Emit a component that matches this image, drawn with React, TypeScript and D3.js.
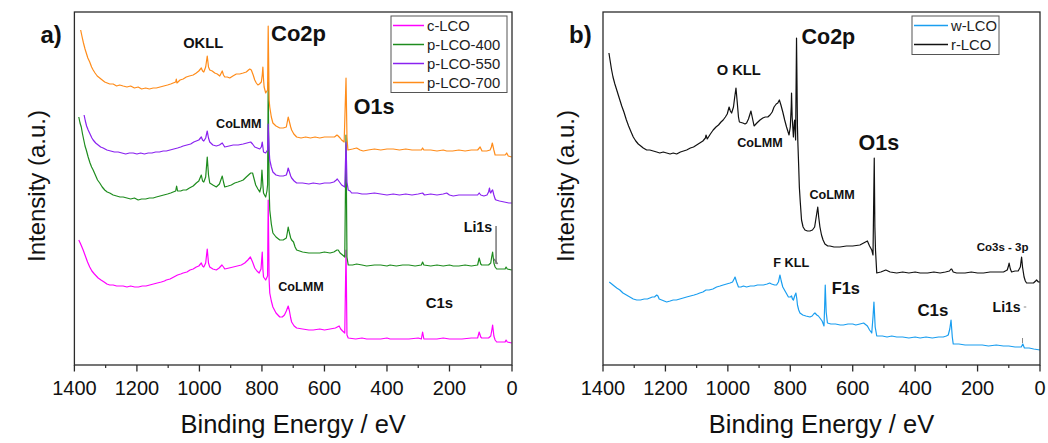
import React from "react";
import * as d3 from "d3";

type Pt = [number, number];

// Binding energy axis ticks (eV)
const energyTicks = [1400, 1200, 1000, 800, 600, 400, 200, 0];
const energyMinorTicks = [1300, 1100, 900, 700, 500, 300, 100];

// Survey spectra: [binding energy (eV), intensity (a.u., stacked with offsets)]
const cLCO: Pt[] = [
  [1386, 127], [1380, 123], [1372, 117], [1365, 111], [1358, 105], [1351, 100], [1344, 96], [1336, 93],
  [1330, 91], [1324, 89], [1315, 87], [1305, 85], [1296, 83], [1287, 82], [1276, 82], [1265, 81],
  [1254, 81], [1244, 81], [1232, 80], [1220, 81], [1207, 80], [1195, 80], [1183, 81], [1171, 81],
  [1159, 82], [1147, 83], [1135, 84], [1122, 85], [1112, 86], [1106, 87], [1094, 88], [1082, 90],
  [1070, 92], [1060, 93], [1052, 94], [1040, 95], [1030, 97], [1020, 98], [1010, 100], [1002, 101],
  [994, 104], [990, 101], [986, 100], [980, 104], [975, 118], [971, 104], [967, 100], [957, 98],
  [946, 97], [937, 99], [928, 102], [923, 100], [919, 98], [905, 99], [892, 100], [879, 101],
  [866, 102], [855, 104], [845, 107], [837, 110], [830, 105], [823, 99], [816, 96], [809, 94],
  [803, 98], [799, 115], [797, 98], [795, 90], [788, 87], [782, 91], [780, 167], [777, 87],
  [775, 74], [770, 66], [765, 60], [755, 54], [743, 50], [735, 50], [728, 52], [722, 56],
  [716, 61], [712, 56], [708, 49], [705, 45], [697, 41], [689, 39], [670, 38], [650, 37],
  [636, 37], [615, 38], [600, 37], [582, 38], [565, 39], [553, 41], [548, 38], [542, 36],
  [535, 34], [531, 117], [528, 32], [524, 29], [500, 28], [480, 29], [465, 28], [440, 28],
  [420, 28], [400, 29], [390, 28], [360, 28], [330, 28], [300, 29], [290, 28], [286, 35],
  [282, 28], [260, 28], [240, 28], [220, 29], [200, 28], [188, 28], [160, 28], [130, 29],
  [110, 29], [105, 35], [100, 30], [97, 29], [85, 29], [75, 29], [68, 31], [65, 36],
  [62, 42], [58, 31], [54, 27], [49, 25], [35, 25], [22, 25], [19, 27], [15, 25], [1, 24],
];

const pLCO400: Pt[] = [
  [1386, 250], [1382, 244], [1378, 240], [1374, 233], [1370, 227], [1366, 221], [1362, 217], [1356, 210],
  [1350, 204], [1345, 200], [1340, 197], [1333, 192], [1326, 187], [1319, 184], [1311, 180], [1303, 177],
  [1295, 175], [1287, 174], [1276, 172], [1265, 171], [1254, 170], [1244, 170], [1232, 169], [1220, 168],
  [1208, 169], [1196, 167], [1185, 168], [1172, 168], [1160, 169], [1148, 169], [1138, 170], [1126, 171],
  [1114, 172], [1102, 173], [1092, 174], [1084, 175], [1076, 176], [1073, 181], [1070, 176], [1060, 176],
  [1052, 177], [1042, 177], [1032, 179], [1020, 181], [1010, 184], [1002, 186], [994, 192], [990, 186],
  [986, 185], [980, 190], [975, 210], [971, 192], [967, 184], [957, 182], [946, 180], [936, 183],
  [927, 191], [923, 185], [919, 180], [908, 181], [898, 182], [887, 184], [877, 185], [868, 186],
  [860, 187], [850, 190], [843, 192], [836, 194], [830, 194], [825, 188], [820, 182], [813, 178],
  [807, 175], [803, 180], [800, 197], [797, 182], [795, 174], [790, 171], [788, 170], [784, 176],
  [782, 182], [780, 285], [777, 177], [775, 157], [770, 143], [765, 134], [755, 130], [743, 127],
  [732, 127], [722, 129], [719, 134], [716, 140], [712, 134], [708, 129], [705, 127], [699, 125],
  [694, 120], [689, 117], [670, 115], [650, 114], [636, 114], [615, 114], [600, 115], [582, 114],
  [570, 115], [560, 117], [556, 117], [550, 114], [542, 112], [535, 110], [531, 232], [528, 110],
  [524, 102], [510, 102], [497, 103], [480, 102], [465, 101], [440, 102], [420, 102], [400, 101],
  [390, 102], [370, 101], [350, 102], [330, 102], [310, 101], [290, 102], [286, 105], [282, 102],
  [260, 101], [240, 102], [220, 101], [200, 102], [188, 101], [170, 101], [150, 102], [130, 101],
  [110, 102], [105, 109], [100, 103], [97, 102], [85, 102], [75, 102], [68, 104], [65, 110],
  [62, 115], [58, 104], [54, 100], [49, 98], [35, 98], [22, 98], [19, 100], [15, 98], [1, 97],
];

const pLCO550: Pt[] = [
  [1369, 252], [1365, 246], [1361, 241], [1356, 237], [1350, 233], [1344, 229], [1340, 227], [1332, 224],
  [1324, 222], [1316, 220], [1308, 219], [1296, 217], [1284, 216], [1272, 215], [1260, 215], [1248, 214],
  [1236, 213], [1224, 214], [1212, 214], [1200, 213], [1188, 214], [1176, 213], [1164, 214], [1152, 214],
  [1140, 215], [1128, 215], [1116, 216], [1106, 216], [1094, 217], [1082, 218], [1070, 219], [1060, 220],
  [1052, 221], [1040, 222], [1028, 223], [1018, 225], [1010, 226], [1002, 227], [994, 230], [990, 227],
  [986, 226], [980, 229], [975, 236], [971, 229], [967, 225], [957, 222], [946, 221], [936, 222],
  [927, 224], [923, 222], [919, 220], [905, 221], [892, 222], [876, 222], [860, 223], [848, 224],
  [836, 225], [830, 223], [823, 220], [815, 219], [807, 218], [802, 220], [799, 225], [797, 220],
  [795, 215], [788, 214], [782, 217], [780, 243], [777, 217], [775, 207], [770, 200], [765, 195],
  [755, 192], [743, 191], [732, 191], [722, 192], [719, 195], [716, 199], [712, 195], [708, 191],
  [705, 189], [697, 186], [689, 184], [670, 184], [650, 183], [636, 184], [615, 183], [600, 184],
  [582, 184], [570, 185], [562, 187], [559, 188], [552, 185], [545, 182], [535, 180], [531, 225],
  [528, 185], [524, 177], [518, 176], [513, 174], [495, 174], [480, 173], [465, 173], [440, 174],
  [420, 173], [400, 172], [380, 173], [360, 172], [340, 173], [320, 172], [300, 173], [286, 174],
  [280, 172], [260, 173], [240, 172], [220, 173], [209, 174], [200, 172], [188, 171], [170, 172],
  [150, 172], [130, 172], [110, 172], [105, 174], [100, 172], [90, 171], [80, 172], [75, 175],
  [72, 179], [70, 175], [68, 174], [65, 176], [62, 177], [58, 172], [54, 168], [51, 167],
  [40, 166], [25, 165], [10, 164], [1, 164],
];

const pLCO700: Pt[] = [
  [1380, 337], [1376, 331], [1371, 324], [1366, 318], [1362, 314], [1357, 309], [1351, 305], [1345, 300],
  [1340, 297], [1334, 294], [1327, 291], [1319, 289], [1311, 287], [1303, 285], [1295, 284], [1287, 283],
  [1276, 283], [1265, 281], [1255, 282], [1244, 281], [1232, 280], [1220, 281], [1208, 279], [1196, 280],
  [1185, 278], [1172, 279], [1160, 278], [1148, 279], [1138, 279], [1126, 280], [1114, 281], [1102, 282],
  [1092, 283], [1084, 284], [1076, 285], [1074, 288], [1072, 284], [1062, 287], [1052, 288], [1042, 290],
  [1032, 291], [1020, 292], [1010, 294], [1002, 296], [994, 299], [990, 296], [986, 295], [980, 300],
  [975, 311], [971, 300], [967, 297], [959, 296], [951, 294], [943, 293], [935, 291], [927, 296],
  [923, 292], [919, 290], [911, 290], [903, 289], [893, 291], [882, 293], [871, 293], [860, 294],
  [850, 295], [843, 297], [839, 298], [834, 297], [828, 292], [823, 287], [818, 284], [813, 282],
  [808, 283], [802, 285], [799, 292], [797, 300], [795, 288], [793, 280], [788, 274], [782, 277],
  [780, 341], [777, 267], [775, 260], [770, 250], [765, 244], [755, 241], [743, 239], [732, 239],
  [722, 240], [719, 245], [716, 250], [712, 245], [708, 240], [705, 237], [698, 233], [689, 230],
  [675, 229], [660, 230], [645, 229], [630, 230], [615, 229], [600, 230], [582, 230], [568, 230],
  [560, 232], [556, 231], [550, 229], [545, 227], [537, 225], [531, 289], [528, 230], [525, 217],
  [510, 218], [497, 219], [486, 217], [476, 216], [460, 217], [440, 218], [420, 217], [400, 218],
  [380, 218], [360, 217], [340, 218], [320, 217], [300, 217], [290, 217], [286, 219], [282, 217],
  [260, 217], [240, 216], [220, 217], [209, 216], [190, 216], [170, 217], [150, 216], [130, 217],
  [110, 217], [102, 220], [96, 216], [81, 216], [70, 217], [66, 220], [63, 224], [58, 217],
  [54, 212], [40, 212], [22, 212], [17, 214], [12, 211], [1, 210],
];

const wLCO: Pt[] = [
  [1380, 85], [1372, 83], [1364, 81], [1356, 79], [1346, 77], [1336, 74], [1325, 72], [1314, 70],
  [1303, 68], [1292, 67], [1280, 67], [1268, 68], [1258, 68], [1250, 69], [1242, 70], [1235, 70],
  [1228, 72], [1224, 71], [1220, 68], [1212, 67], [1204, 66], [1196, 65], [1185, 66], [1175, 67],
  [1165, 67], [1154, 68], [1143, 69], [1132, 70], [1120, 71], [1108, 72], [1098, 73], [1090, 74],
  [1080, 75], [1070, 77], [1060, 77], [1048, 78], [1036, 80], [1025, 81], [1015, 82], [1004, 83],
  [993, 84], [985, 85], [980, 88], [977, 90], [972, 85], [966, 80], [958, 80], [950, 81],
  [940, 80], [928, 81], [916, 81], [905, 82], [897, 82], [886, 82], [874, 83], [866, 84],
  [860, 83], [850, 82], [844, 82], [838, 85], [833, 92], [829, 86], [824, 80], [815, 75],
  [806, 70], [800, 70], [796, 71], [793, 68], [790, 67], [786, 71], [782, 74], [779, 68],
  [777, 62], [773, 57], [769, 54], [760, 52], [750, 51], [737, 50], [730, 51], [725, 53],
  [721, 54], [715, 52], [710, 51], [705, 49], [698, 46], [692, 41], [690, 60], [688, 82],
  [685, 55], [681, 44], [670, 43], [655, 43], [640, 42], [630, 42], [615, 43], [600, 43],
  [590, 42], [577, 43], [565, 44], [553, 41], [546, 37], [539, 34], [535, 50], [532, 65],
  [528, 40], [523, 31], [505, 31], [490, 30], [475, 31], [459, 30], [440, 30], [420, 29],
  [400, 30], [384, 29], [365, 30], [345, 29], [325, 30], [310, 30], [300, 31], [294, 32],
  [289, 38], [285, 47], [281, 30], [278, 23], [260, 23], [240, 22], [220, 22], [203, 22],
  [185, 22], [165, 21], [140, 22], [117, 21], [100, 21], [80, 20], [60, 20], [55, 23],
  [50, 19], [35, 19], [20, 18], [0, 17],
];

const rLCO: Pt[] = [
  [1381, 314], [1377, 306], [1373, 298], [1368, 290], [1362, 283], [1356, 277], [1351, 272], [1346, 267],
  [1340, 261], [1333, 255], [1325, 247], [1318, 241], [1310, 235], [1303, 230], [1295, 226], [1287, 223],
  [1279, 221], [1271, 219], [1260, 217], [1250, 217], [1239, 216], [1228, 215], [1218, 214], [1207, 215],
  [1196, 214], [1185, 213], [1175, 214], [1164, 213], [1152, 215], [1142, 216], [1132, 217], [1120, 219],
  [1110, 220], [1100, 222], [1090, 224], [1080, 226], [1072, 229], [1070, 232], [1066, 228], [1056, 233],
  [1047, 237], [1038, 240], [1030, 242], [1022, 245], [1015, 247], [1008, 250], [1002, 253], [996, 260],
  [992, 256], [988, 254], [982, 260], [978, 270], [974, 279], [970, 265], [966, 250], [963, 245],
  [952, 244], [945, 243], [940, 244], [934, 248], [930, 252], [926, 256], [922, 250], [916, 241],
  [907, 244], [897, 247], [888, 249], [880, 250], [872, 250], [865, 252], [858, 255], [852, 260],
  [845, 263], [840, 264], [835, 267], [830, 262], [824, 255], [818, 247], [812, 240], [808, 236],
  [804, 232], [800, 240], [797, 260], [796, 274], [794, 250], [790, 230], [787, 245], [786, 247],
  [784, 235], [783, 227], [780, 329], [777, 240], [776, 227], [773, 200], [771, 180], [768, 165],
  [764, 147], [759, 140], [753, 137], [745, 136], [737, 136], [729, 137], [722, 140], [717, 150],
  [712, 160], [709, 150], [705, 140], [700, 132], [695, 127], [689, 123], [680, 121], [673, 121],
  [660, 120], [641, 120], [620, 121], [600, 121], [577, 122], [565, 124], [553, 126], [546, 121],
  [539, 117], [535, 112], [531, 209], [529, 140], [527, 117], [523, 94], [510, 95], [494, 97],
  [480, 95], [459, 94], [440, 95], [420, 94], [400, 95], [384, 94], [360, 94], [340, 95],
  [320, 94], [303, 95], [290, 96], [285, 98], [283, 98], [278, 95], [267, 94], [240, 94],
  [220, 95], [200, 94], [181, 94], [160, 95], [140, 95], [117, 95], [105, 97], [101, 101],
  [99, 104], [95, 98], [91, 95], [80, 96], [70, 96], [63, 100], [59, 110], [56, 100],
  [51, 90], [47, 86], [43, 84], [30, 84], [21, 84], [14, 86], [11, 87], [5, 85], [0, 85],
];

const seriesA = [
  { name: "c-LCO", color: "#ff00ff", data: cLCO },
  { name: "p-LCO-400", color: "#1e8c1e", data: pLCO400 },
  { name: "p-LCO-550", color: "#8a22f0", data: pLCO550 },
  { name: "p-LCO-700", color: "#ff8c1a", data: pLCO700 },
];

const seriesB = [
  { name: "w-LCO", color: "#1a9ef0", data: wLCO },
  { name: "r-LCO", color: "#111111", data: rLCO },
];

// Peak labels placed at [energy, intensity]
const labelsA = [
  { text: "OKLL", e: 988, v: 324, size: 14.7 },
  { text: "CoLMM", e: 874, v: 243, size: 12.6 },
  { text: "Co2p", e: 683, v: 334, size: 22 },
  { text: "O1s", e: 441, v: 260, size: 21.5 },
  { text: "Li1s", e: 109, v: 140, size: 14.2 },
  { text: "CoLMM", e: 675, v: 80, size: 12.6 },
  { text: "C1s", e: 232, v: 64, size: 14.9 },
];

const labelsB = [
  { text: "O KLL", e: 965, v: 297, size: 14.7 },
  { text: "CoLMM", e: 897, v: 224, size: 12.6 },
  { text: "Co2p", e: 678, v: 330, size: 21.5 },
  { text: "CoLMM", e: 666, v: 172, size: 12.6 },
  { text: "O1s", e: 516, v: 224, size: 21.5 },
  { text: "Co3s - 3p", e: 120, v: 120, size: 11.5 },
  { text: "F KLL", e: 797, v: 104, size: 12.7 },
  { text: "F1s", e: 622, v: 79, size: 16.4 },
  { text: "C1s", e: 343, v: 57, size: 16.9 },
  { text: "Li1s", e: 107, v: 60, size: 14 },
];

const W = 1048;
const H = 443;
const TOP = 12;
const BOTTOM = 365;
const FONT = "'Liberation Sans', Arial, Helvetica, sans-serif";

const y = d3.scaleLinear().domain([2, 355]).range([BOTTOM, TOP]);

type Series = { name: string; color: string; data: Pt[] };
type Label = { text: string; e: number; v: number; size: number };

function Panel(props: {
  left: number;
  right: number;
  tag: string;
  series: Series[];
  labels: Label[];
  legendX: number;
  legendW: number;
  lineLen: number;
  children?: (x: d3.ScaleLinear<number, number>) => React.ReactNode;
}) {
  const { left, right, tag, series, labels, legendX, legendW, lineLen } = props;
  const x = d3.scaleLinear().domain([1400, 0]).range([left, right]);
  const line = d3
    .line<Pt>()
    .x((d) => x(d[0]))
    .y((d) => y(d[1]));
  const rowH = 19;
  const legendTop = 16;
  const legendH = series.length * rowH + 0.5;
  const midX = (left + right) / 2;

  return (
    <g>
      {/* spectra */}
      {series.map((s) => (
        <path key={s.name} d={line(s.data) || ""} fill="none" stroke={s.color} strokeWidth={1.2} strokeLinejoin="round" />
      ))}

      {/* frame */}
      <rect x={left} y={TOP} width={right - left} height={BOTTOM - TOP} fill="none" stroke="#2b2b2b" strokeWidth={1.3} />

      {/* bottom axis ticks */}
      {energyTicks.map((t) => (
        <g key={"M" + t}>
          <line x1={x(t)} x2={x(t)} y1={BOTTOM} y2={BOTTOM + 6.5} stroke="#2b2b2b" strokeWidth={1.3} />
          <text x={x(t)} y={395} textAnchor="middle" fontSize={20} fontFamily={FONT} fill="#111">
            {t}
          </text>
        </g>
      ))}
      {energyMinorTicks.map((t) => (
        <line key={"m" + t} x1={x(t)} x2={x(t)} y1={BOTTOM} y2={BOTTOM + 3} stroke="#2b2b2b" strokeWidth={1.2} />
      ))}

      {/* axis titles */}
      <text x={midX} y={433} textAnchor="middle" fontSize={25.5} fontFamily={FONT} fill="#111">
        Binding Energy / eV
      </text>
      <text
        transform={`translate(${left - 29.5},186) rotate(-90)`}
        textAnchor="middle"
        fontSize={24}
        fontFamily={FONT}
        fill="#111"
      >
        Intensity (a.u.)
      </text>

      {/* panel tag */}
      <text x={left - 34} y={43} fontSize={24} fontWeight="bold" fontFamily={FONT} fill="#111">
        {tag}
      </text>

      {/* peak labels */}
      {labels.map((l, i) => (
        <text
          key={i}
          x={x(l.e)}
          y={y(l.v)}
          textAnchor="middle"
          dominantBaseline="central"
          fontSize={l.size}
          fontWeight="bold"
          fontFamily={FONT}
          fill="#111"
        >
          {l.text}
        </text>
      ))}

      {props.children ? props.children(x) : null}

      {/* legend */}
      <rect x={legendX} y={legendTop} width={legendW} height={legendH} fill="#fff" stroke="#555" strokeWidth={1} />
      {series.map((s, i) => {
        const cy = legendTop + 9.5 + i * rowH;
        return (
          <g key={"lg" + s.name}>
            <line x1={legendX + 2} x2={legendX + 2 + lineLen} y1={cy} y2={cy} stroke={s.color} strokeWidth={1.5} />
            <text
              x={legendX + lineLen + 5}
              y={cy}
              dominantBaseline="central"
              fontSize={14.8}
              fontFamily={FONT}
              fill="#222"
            >
              {s.name}
            </text>
          </g>
        );
      })}
    </g>
  );
}

export default function App() {
  return (
    <svg
      width={W}
      height={H}
      viewBox={`0 0 ${W} ${H}`}
      style={{ position: "absolute", left: 0, top: 0, background: "#fff" }}
    >
      <rect x={0} y={0} width={W} height={H} fill="#fff" />
      <Panel
        left={74.4}
        right={512}
        tag="a)"
        series={seriesA}
        labels={labelsA}
        legendX={391}
        legendW={116}
        lineLen={31}
      >
        {(x) => (
          <g stroke="#777" strokeWidth={1.5} fill="none">
            <line x1={x(51)} x2={x(51)} y1={y(141)} y2={y(103)} />
            <path d={`M${x(51) - 2},${y(108)} L${x(51) + 1.5},${y(103)}`} />
          </g>
        )}
      </Panel>
      <Panel
        left={603}
        right={1040}
        tag="b)"
        series={seriesB}
        labels={labelsB}
        legendX={912}
        legendW={87}
        lineLen={34}
      >
        {(x) => (
          <g stroke="#888" strokeWidth={1} fill="none">
            <line x1={x(52)} x2={x(44)} y1={y(60)} y2={y(60)} />
            <line x1={x(56)} x2={x(56)} y1={y(29)} y2={y(24)} />
          </g>
        )}
      </Panel>
    </svg>
  );
}
